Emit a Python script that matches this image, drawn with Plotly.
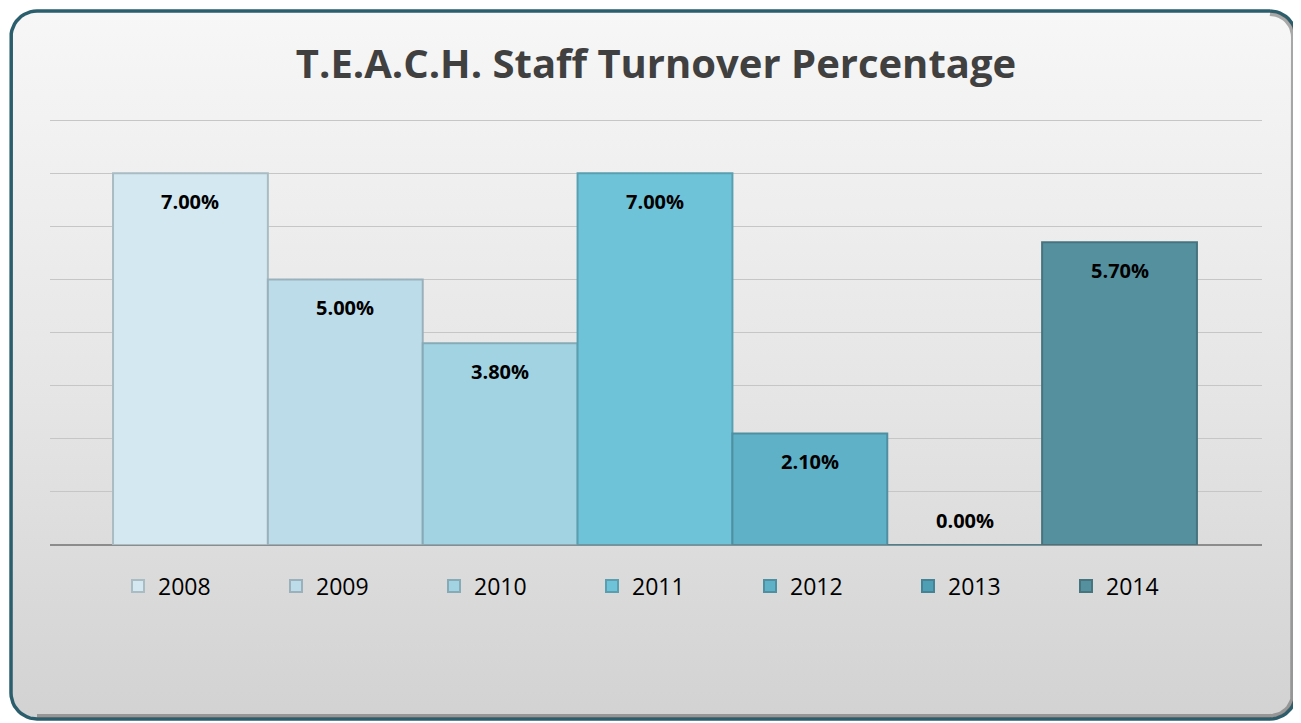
import math
import plotly.graph_objects as go

# ---- data ----
years = ["2008", "2009", "2010", "2011", "2012", "2013", "2014"]
turnover = [7.00, 5.00, 3.80, 7.00, 2.10, 0.00, 5.70]
labels = ["7.00%", "5.00%", "3.80%", "7.00%", "2.10%", "0.00%", "5.70%"]
bar_colors = ["#d4e8f1", "#bcdcea", "#a2d3e3", "#6ec3d9", "#5fb1c8", "#4f9fb4", "#55909f"]
edge_colors = ["#a9bcc4", "#9ab1bb", "#86aab6", "#5a9fb0", "#4e8fa1", "#438395", "#45747f"]
title_text = "T.E.A.C.H. Staff Turnover Percentage"

# page body has an 8px margin -> work in screen pixels and subtract it
OFF = 8
W, H = 1301 - OFF, 723 - OFF

fig = go.Figure()


def rounded_rect(x0, y0, x1, y1, r, n=12):
    pts = []
    corners = [(x1 - r, y0 + r, -90, 0), (x1 - r, y1 - r, 0, 90),
               (x0 + r, y1 - r, 90, 180), (x0 + r, y0 + r, 180, 270)]
    for cx, cy, a0, a1 in corners:
        for k in range(n + 1):
            a = math.radians(a0 + (a1 - a0) * k / n)
            pts.append((cx + r * math.cos(a), cy + r * math.sin(a)))
    pts.append(pts[0])
    return [p[0] - OFF for p in pts], [H - (p[1] - OFF) for p in pts]


# ---- background frame (gradient) on a full-page helper axis ----
fx, fy = rounded_rect(11, 11, 1296, 719, 26)
fig.add_trace(go.Scatter(
    x=fx, y=fy, mode="lines", fill="toself",
    line=dict(color="#2b5e6c", width=3.5),
    fillgradient=dict(type="vertical", start=0, stop=H,
                      colorscale=[[0, "#d2d2d2"], [0.45, "#e5e5e5"], [1, "#f7f7f7"]]),
    hoverinfo="skip", showlegend=False, xaxis="x", yaxis="y"))
# inner shadow along right/bottom
sx, sy = rounded_rect(14, 14, 1293, 716, 23)
n_side = len(sx)
fig.add_trace(go.Scatter(
    x=sx[:n_side // 2 + 1], y=sy[:n_side // 2 + 1], mode="lines",
    line=dict(color="rgba(90,90,90,0.5)", width=4),
    hoverinfo="skip", showlegend=False, xaxis="x", yaxis="y"))

# ---- bars ----
for i, (yr, v) in enumerate(zip(years, turnover)):
    fig.add_trace(go.Bar(
        x=[i], y=[v], name=yr, width=1.0,
        marker=dict(color=bar_colors[i], line=dict(color=edge_colors[i], width=2)),
        xaxis="x2", yaxis="y2", hoverinfo="skip"))

# ---- data labels ----
for i, (v, t) in enumerate(zip(turnover, labels)):
    fig.add_annotation(
        x=i, y=v, xref="x2", yref="y2", text=f"<b>{t}</b>", showarrow=False,
        yshift=-28 if v > 0 else 25,
        font=dict(family="Open Sans", size=20, color="#000000"))

# plot area in screen pixels (top extended 3px so the 8% gridline is drawn)
pl, pr, pt, pb = 50 - OFF, 1262 - OFF, 117 - OFF, 545 - OFF
unit_px = (545 - 120) / 8.0
ymax = (pb - pt) / unit_px
fig.update_layout(
    width=W, height=H,
    margin=dict(l=0, r=0, t=0, b=0),
    paper_bgcolor="#ffffff",
    plot_bgcolor="rgba(0,0,0,0)",
    barmode="overlay",
    title=dict(text=f"<b>{title_text}</b>", x=(656 - OFF) / W, xanchor="center",
               y=1 - (64 - OFF) / H, yanchor="middle",
               font=dict(family="Open Sans", size=40, color="#404040")),
    xaxis=dict(domain=[0, 1], range=[0, W], visible=False, fixedrange=True),
    yaxis=dict(domain=[0, 1], range=[0, H], visible=False, fixedrange=True),
    xaxis2=dict(domain=[pl / W, pr / W], range=[-0.907, 6.92], anchor="y2",
                showgrid=False, showticklabels=False, zeroline=False, ticks=""),
    yaxis2=dict(domain=[(H - pb) / H, (H - pt) / H], range=[0, ymax],
                tickvals=[1, 2, 3, 4, 5, 6, 7, 8],
                anchor="x2", showticklabels=False, ticks="",
                showgrid=True, gridcolor="#c6c6c6", gridwidth=1,
                zeroline=True, zerolinecolor="#8c8c8c", zerolinewidth=1.5),
    legend=dict(orientation="h", x=(671 - OFF) / W, xanchor="center",
                y=(H - (586 - OFF)) / H, yanchor="middle",
                entrywidth=113, entrywidthmode="pixels",
                bgcolor="rgba(0,0,0,0)",
                font=dict(family="Open Sans", size=23, color="#000000")),
    showlegend=True,
)

fig.write_html("out.html")
